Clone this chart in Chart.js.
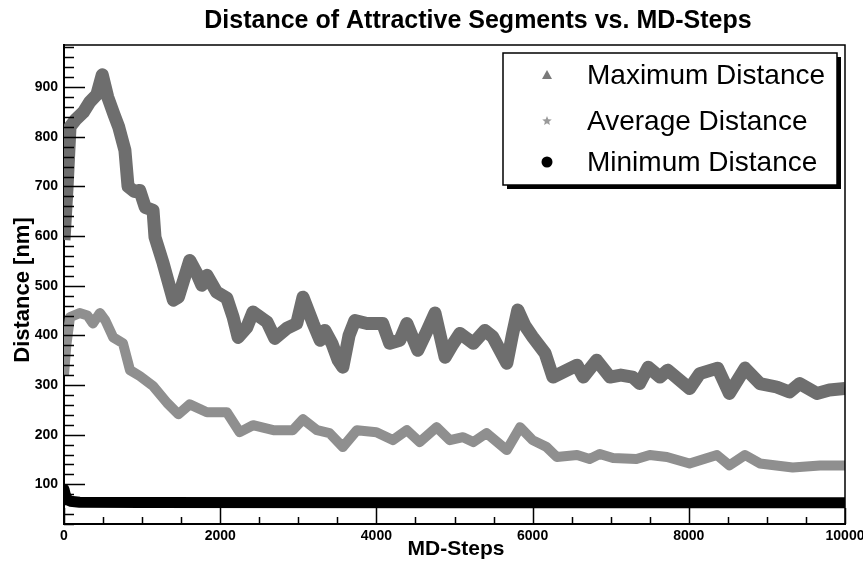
<!DOCTYPE html>
<html>
<head>
<meta charset="utf-8">
<script src="https://cdn.jsdelivr.net/npm/chart.js@4"></script>
<style>
  html, body { margin: 0; padding: 0; background: #ffffff; }
  #wrap { width: 863px; height: 566px; }
</style>
</head>
<body>
<div id="wrap"><canvas id="c" width="863" height="566"></canvas></div>
<script>
// ---------------- DATA ----------------
const chartTitle = "Distance of Attractive Segments vs. MD-Steps";
const xTitle = "MD-Steps";
const yTitle = "Distance [nm]";
const seriesLabels = ["Maximum Distance", "Average Distance", "Minimum Distance"];

const xTickLabels = [0, 2000, 4000, 6000, 8000, 10000];
const yTickLabels = [100, 200, 300, 400, 500, 600, 700, 800, 900];

const maxSteps = [0, 40, 77, 150, 250, 330, 420, 490, 560, 640, 700, 780, 820, 900, 970, 1040, 1140, 1165, 1270, 1400, 1465, 1610, 1700, 1765, 1830, 1955, 2085, 2165, 2230, 2340, 2420, 2600, 2700, 2850, 2980, 3060, 3190, 3280, 3340, 3430, 3510, 3570, 3650, 3725, 3880, 4080, 4170, 4300, 4390, 4530, 4650, 4750, 4880, 4970, 5070, 5240, 5390, 5490, 5670, 5740, 5810, 5900, 6000, 6160, 6260, 6440, 6570, 6650, 6820, 6990, 7130, 7280, 7370, 7480, 7630, 7730, 8010, 8140, 8370, 8520, 8720, 8910, 9125, 9290, 9420, 9640, 9800, 10000];
const maxValues = [592, 700, 820, 835, 850, 870, 885, 925, 880, 845, 820, 773, 700, 690, 692, 658, 652, 598, 545, 471, 477, 551, 525, 501, 521, 487, 475, 437, 396, 416, 447, 427, 394, 414, 424, 477, 424, 390, 410, 384, 350, 336, 400, 430, 424, 424, 384, 390, 424, 370, 410, 445, 356, 380, 404, 384, 410, 397, 344, 400, 451, 420, 397, 364, 316, 330, 340, 316, 350, 316, 320, 316, 303, 336, 316, 330, 293, 323, 334, 283, 334, 303, 296, 286, 303, 283, 290, 293];

const avgSteps = [0, 30, 77, 200, 300, 370, 460, 530, 630, 755, 845, 970, 1140, 1320, 1465, 1610, 1830, 2085, 2250, 2420, 2680, 2930, 3060, 3240, 3400, 3570, 3750, 4000, 4210, 4390, 4555, 4770, 4940, 5110, 5240, 5410, 5670, 5840, 6000, 6180, 6310, 6570, 6730, 6860, 7030, 7330, 7500, 7720, 8010, 8360, 8520, 8720, 8910, 9330, 9680, 10000];
const avgValues = [320, 380, 437, 445, 440, 424, 445, 430, 396, 384, 330, 318, 298, 264, 241, 261, 245, 245, 205, 219, 209, 209, 231, 209, 203, 175, 209, 205, 189, 209, 185, 215, 189, 195, 185, 203, 169, 215, 189, 175, 155, 159, 151, 161, 153, 151, 159, 155, 142, 159, 138, 159, 142, 134, 138, 138];

const minSteps = [0, 15, 40, 80, 200, 1000, 5000, 10000];
const minValues = [90, 80, 70, 66, 64, 63.5, 63, 63];

// ---------------- STYLE ----------------
const FONT = "'Liberation Sans', Arial, Helvetica, sans-serif";
const colMax = '#6e6e6e';
const colAvg = '#8f8f8f';
const colMin = '#000000';

function pts(xs, ys) { return xs.map((x, i) => ({ x: x, y: ys[i] })); }

const framePlugin = {
  id: 'frame',
  afterDraw(chart) {
    const ctx = chart.ctx;
    const a = chart.chartArea;
    const xs = chart.scales.x, ys = chart.scales.y;
    ctx.save();
    ctx.strokeStyle = '#000';
    ctx.lineWidth = 1.5;
    ctx.beginPath();
    ctx.moveTo(a.left, a.top); ctx.lineTo(a.right, a.top); ctx.lineTo(a.right, a.bottom);
    ctx.stroke();
    ctx.lineWidth = 1.5;
    ctx.beginPath();
    for (let v = Math.ceil(ys.min / 20) * 20; v <= ys.max; v += 20) {
      const p = Math.round(ys.getPixelForValue(v)) + 0.5;
      const len = (v % 100 === 0) ? 21 : 10;
      ctx.moveTo(a.left, p); ctx.lineTo(a.left + len, p);
    }
    for (let v = 0; v <= xs.max; v += 500) {
      const p = Math.round(xs.getPixelForValue(v)) + 0.5;
      const len = (v % 2000 === 0) ? 16 : 7;
      ctx.moveTo(p, a.bottom); ctx.lineTo(p, a.bottom - len);
    }
    ctx.stroke();

    ctx.fillStyle = '#000';
    ctx.textAlign = 'center';
    ctx.textBaseline = 'middle';
    ctx.font = 'bold 25px ' + FONT;
    ctx.fillText(chartTitle, 478, 21);
    ctx.font = 'bold 21px ' + FONT;
    ctx.fillText(xTitle, 456, 549);
    ctx.save();
    ctx.translate(23, 290);
    ctx.rotate(-Math.PI / 2);
    ctx.font = 'bold 22px ' + FONT;
    ctx.fillText(yTitle, 0, 0);
    ctx.restore();

    const bx = 503, by = 53, bw = 334, bh = 132;
    ctx.fillStyle = '#000';
    ctx.fillRect(bx + 4, by + 4, bw, bh);
    ctx.fillStyle = '#fff';
    ctx.fillRect(bx, by, bw, bh);
    ctx.strokeStyle = '#000';
    ctx.lineWidth = 1.5;
    ctx.strokeRect(bx, by, bw, bh);

    const rows = [75, 121, 162];
    const mx = 547;
    chart.data.datasets.forEach((ds, i) => {
      const y = rows[i];
      if (i === 0) {
        ctx.fillStyle = '#7a7a7a';
        ctx.beginPath();
        ctx.moveTo(mx, y - 5); ctx.lineTo(mx + 5, y + 4); ctx.lineTo(mx - 5, y + 4); ctx.closePath();
        ctx.fill();
      } else if (i === 1) {
        ctx.fillStyle = '#9a9a9a';
        ctx.beginPath();
        for (let k = 0; k < 10; k++) {
          const r = (k % 2 === 0) ? 5 : 2.2;
          const ang = -Math.PI / 2 + k * Math.PI / 5;
          const px = mx + r * Math.cos(ang), py = y + r * Math.sin(ang);
          if (k === 0) ctx.moveTo(px, py); else ctx.lineTo(px, py);
        }
        ctx.closePath();
        ctx.fill();
      } else {
        ctx.fillStyle = '#000';
        ctx.beginPath();
        ctx.arc(mx, y, 5.5, 0, Math.PI * 2);
        ctx.fill();
      }
      ctx.fillStyle = '#000';
      ctx.textAlign = 'left';
      ctx.textBaseline = 'middle';
      ctx.font = '28px ' + FONT;
      ctx.fillText(ds.label, 587, y + 1);
    });
    ctx.restore();
  }
};

const cfg = {
  type: 'line',
  data: {
    datasets: [
      { label: seriesLabels[0], data: pts(maxSteps, maxValues), borderColor: colMax, borderWidth: 13,
        pointRadius: 0, borderJoinStyle: 'round', tension: 0, fill: false },
      { label: seriesLabels[1], data: pts(avgSteps, avgValues), borderColor: colAvg, borderWidth: 10,
        pointRadius: 0, borderJoinStyle: 'round', tension: 0, fill: false },
      { label: seriesLabels[2], data: pts(minSteps, minValues), borderColor: colMin, borderWidth: 11,
        pointRadius: 0, borderJoinStyle: 'round', borderCapStyle: 'round', tension: 0, fill: false }
    ]
  },
  options: {
    responsive: false,
    animation: false,
    devicePixelRatio: 1,
    layout: { padding: { top: 45, right: 18, left: 0, bottom: 0 } },
    plugins: { legend: { display: false }, title: { display: false }, tooltip: { enabled: false } },
    scales: {
      x: {
        type: 'linear', min: 0, max: 10000,
        grid: { display: false, drawTicks: false },
        border: { display: true, color: '#000', width: 2 },
        afterBuildTicks: (s) => { s.ticks = xTickLabels.map(v => ({ value: v })); },
        afterFit: (s) => { s.height = 42; s.paddingLeft = 0; s.paddingRight = 0; },
        ticks: { autoSkip: false, maxRotation: 0, padding: 4, color: '#000',
                 font: { family: FONT, size: 14, weight: 'bold' },
                 callback: (v) => String(v) }
      },
      y: {
        type: 'linear', min: 20, max: 985,
        grid: { display: false, drawTicks: false },
        border: { display: true, color: '#000', width: 2 },
        afterBuildTicks: (s) => { s.ticks = yTickLabels.map(v => ({ value: v })); },
        afterFit: (s) => { s.width = 64; s.paddingTop = 0; s.paddingBottom = 0; },
        ticks: { autoSkip: false, padding: 6, color: '#000',
                 font: { family: FONT, size: 14, weight: 'bold' },
                 callback: (v) => String(v) }
      }
    }
  },
  plugins: [framePlugin]
};

new Chart(document.getElementById('c'), cfg);
</script>
</body>
</html>
